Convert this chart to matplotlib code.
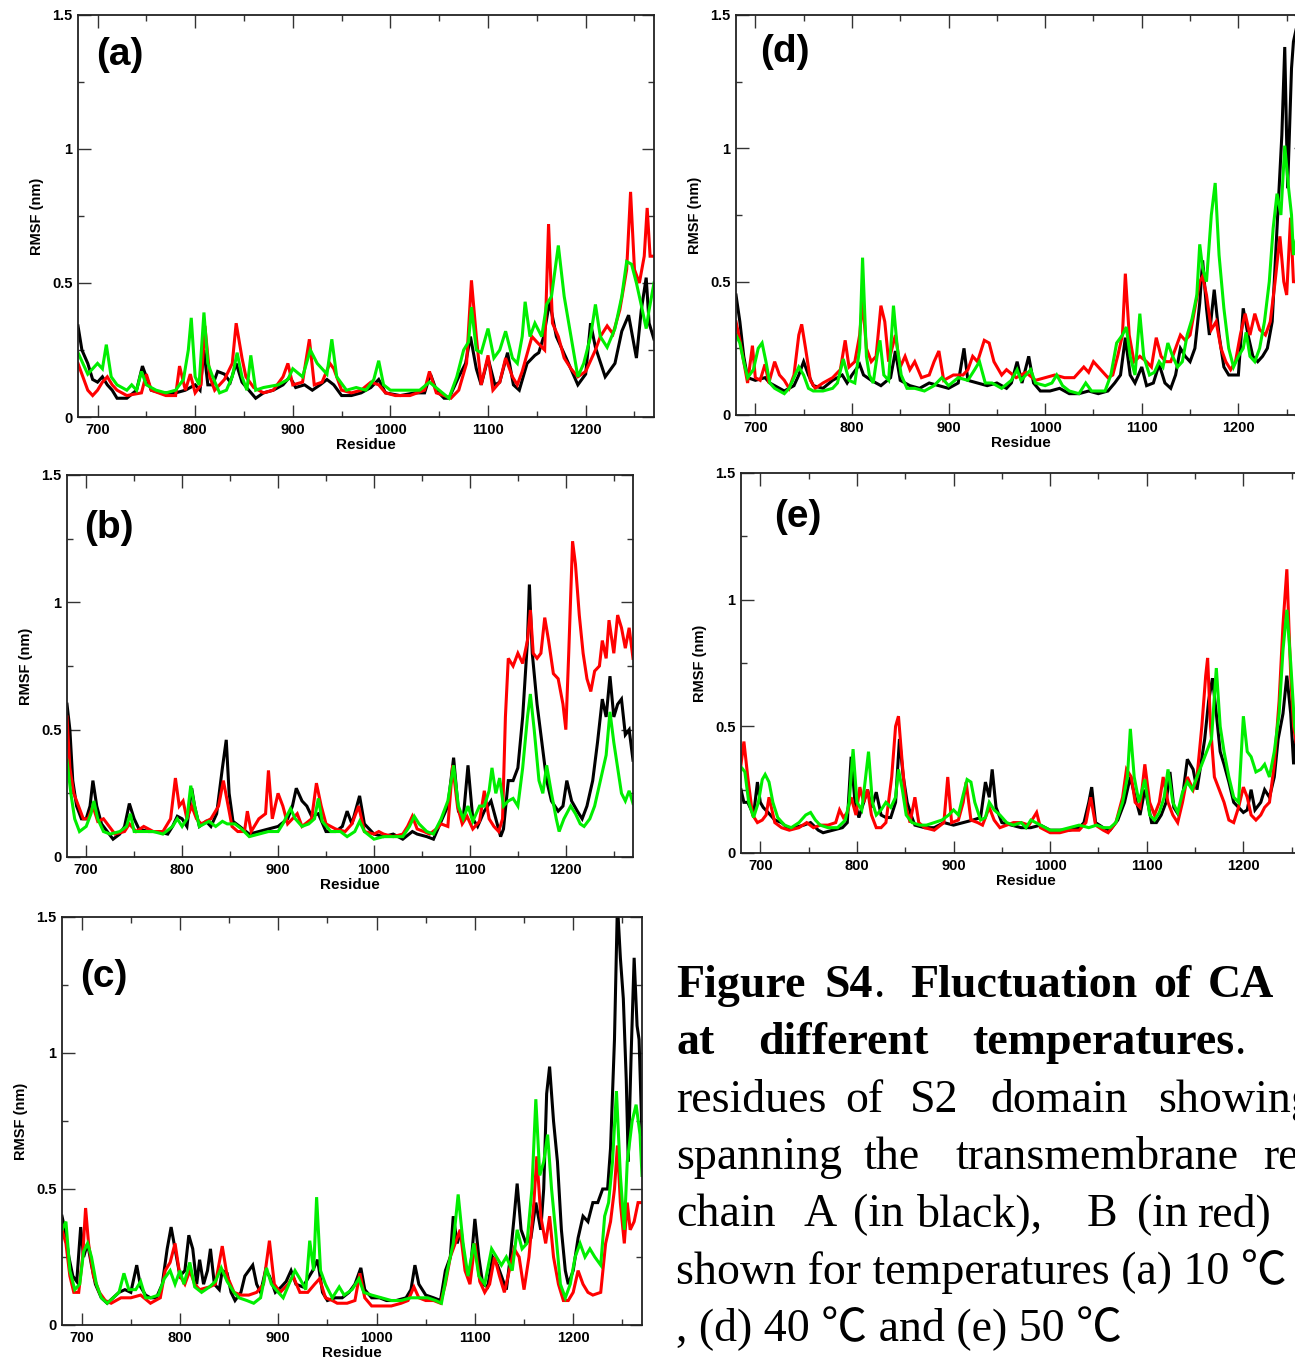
import matplotlib
matplotlib.use("Agg")
import matplotlib.pyplot as plt
from matplotlib.ticker import MultipleLocator, FuncFormatter

W, H = 1295, 1362

# RMSF (nm) per residue: (residue, value) pairs
# panel (a) 10 C
a_black = [(680, .34), (684, .25), (690, .2), (695, .14), (700, .13), (705, .15), (710, .12), (715, .1), (720, .07), (730, .07),
           (740, .1), (746, .19), (750, .15), (755, .1), (765, .09), (780, .09), (790, .1), (800, .12), (805, .1), (809, .25),
           (813, .12), (818, .12), (823, .17), (830, .16), (836, .13), (842, .2), (848, .13), (855, .1), (862, .07), (870, .09),
           (880, .1), (890, .12), (897, .15), (903, .11), (912, .12), (920, .1), (928, .12), (935, .14), (942, .12), (950, .08),
           (960, .08), (970, .09), (980, .11), (988, .14), (995, .09), (1010, .08), (1025, .09), (1035, .09), (1041, .16),
           (1047, .1), (1055, .07), (1060, .07), (1070, .15), (1077, .2), (1082, .3), (1088, .18), (1093, .12), (1100, .22),
           (1107, .12), (1112, .13), (1120, .24), (1126, .12), (1132, .1), (1140, .2), (1148, .23), (1152, .24), (1157, .3),
           (1163, .43), (1170, .3), (1180, .22), (1192, .12), (1200, .16), (1205, .35), (1210, .26), (1220, .15), (1230, .2),
           (1237, .32), (1244, .38), (1252, .22), (1257, .4), (1262, .52), (1265, .35), (1270, .29)]
a_red = [(680, .2), (685, .15), (690, .1), (695, .08), (700, .1), (705, .13), (710, .15), (715, .12), (720, .1), (730, .08),
         (745, .09), (750, .16), (755, .1), (770, .08), (780, .08), (784, .19), (790, .1), (795, .16), (800, .09), (806, .12),
         (810, .34), (815, .15), (820, .1), (830, .14), (838, .2), (842, .35), (848, .22), (852, .15), (860, .11), (870, .09),
         (880, .1), (890, .15), (895, .2), (900, .12), (910, .13), (917, .29), (922, .12), (930, .13), (938, .2), (942, .18),
         (950, .1), (960, .09), (970, .1), (980, .13), (988, .12), (995, .09), (1005, .08), (1020, .08), (1035, .1), (1040, .17),
         (1047, .09), (1055, .08), (1062, .07), (1070, .1), (1078, .2), (1083, .51), (1088, .3), (1093, .12), (1100, .23),
         (1105, .1), (1112, .13), (1118, .22), (1125, .15), (1130, .12), (1135, .17), (1145, .3), (1150, .28), (1158, .25),
         (1162, .72), (1166, .35), (1172, .3), (1178, .22), (1185, .18), (1192, .15), (1200, .17), (1210, .25), (1215, .3),
         (1222, .34), (1228, .31), (1235, .4), (1242, .55), (1246, .84), (1250, .55), (1255, .5), (1260, .6), (1263, .78),
         (1266, .6), (1270, .6)]
a_green = [(680, .24), (685, .2), (690, .16), (695, .18), (700, .2), (705, .18), (709, .27), (714, .15), (720, .12), (730, .1),
           (735, .12), (740, .1), (745, .17), (750, .12), (760, .1), (770, .09), (780, .1), (788, .14), (793, .25), (796, .37),
           (800, .15), (804, .12), (809, .39), (813, .2), (818, .15), (825, .09), (832, .1), (838, .15), (843, .24), (848, .15),
           (853, .1), (857, .23), (862, .1), (870, .11), (885, .12), (895, .14), (900, .18), (910, .15), (918, .25), (925, .2),
           (935, .16), (940, .29), (945, .15), (955, .1), (965, .11), (975, .1), (983, .14), (988, .21), (993, .12), (1000, .1),
           (1015, .1), (1030, .1), (1040, .13), (1050, .1), (1060, .07), (1068, .15), (1075, .25), (1080, .28), (1083, .41),
           (1088, .25), (1093, .24), (1100, .33), (1106, .22), (1112, .25), (1118, .32), (1125, .22), (1130, .2), (1135, .3),
           (1138, .43), (1143, .3), (1148, .35), (1155, .3), (1160, .42), (1165, .45), (1172, .64), (1178, .45), (1185, .3),
           (1192, .15), (1198, .2), (1205, .3), (1210, .42), (1215, .3), (1222, .26), (1230, .33), (1237, .45), (1242, .58),
           (1247, .57), (1252, .5), (1258, .4), (1262, .33), (1265, .4), (1270, .5)]

# panel (b) 20 C
b_black = [(680, .6), (683, .5), (686, .3), (690, .2), (695, .15), (700, .15), (704, .2), (707, .3), (711, .2), (716, .13),
           (722, .1), (728, .07), (735, .09), (740, .12), (745, .21), (750, .15), (755, .11), (765, .1), (775, .1), (785, .09),
           (790, .12), (795, .16), (800, .15), (805, .12), (810, .27), (813, .2), (818, .12), (825, .14), (830, .12), (836, .17),
           (842, .35), (846, .46), (849, .25), (853, .14), (860, .12), (870, .09), (880, .1), (890, .11), (900, .12), (910, .15),
           (915, .2), (919, .27), (925, .22), (930, .2), (935, .16), (942, .17), (950, .1), (960, .1), (967, .12), (972, .18),
           (977, .13), (985, .24), (990, .13), (1000, .09), (1010, .08), (1020, .09), (1030, .07), (1040, .1), (1045, .09),
           (1055, .08), (1062, .07), (1070, .14), (1077, .2), (1083, .39), (1088, .18), (1093, .15), (1098, .36), (1103, .15),
           (1108, .12), (1115, .18), (1122, .22), (1127, .15), (1132, .08), (1135, .11), (1140, .3), (1145, .3), (1150, .35),
           (1155, .55), (1160, .85), (1162, 1.07), (1165, .8), (1170, .6), (1175, .45), (1180, .3), (1185, .22), (1192, .18),
           (1197, .2), (1201, .3), (1206, .22), (1212, .18), (1217, .15), (1222, .2), (1228, .3), (1233, .45), (1238, .62),
           (1242, .55), (1246, .71), (1250, .55), (1254, .6), (1258, .62), (1262, .48), (1266, .5), (1270, .38)]
b_red = [(680, .55), (683, .35), (687, .25), (692, .2), (697, .15), (702, .15), (707, .2), (712, .14), (718, .15), (724, .12),
         (730, .09), (740, .1), (745, .13), (752, .1), (760, .12), (770, .1), (780, .1), (788, .15), (793, .31), (797, .2),
         (801, .22), (805, .15), (810, .2), (815, .15), (820, .13), (830, .15), (838, .2), (843, .3), (847, .22), (852, .12),
         (858, .1), (865, .1), (868, .18), (872, .1), (880, .15), (887, .17), (890, .34), (894, .15), (900, .25), (905, .2),
         (910, .13), (915, .15), (920, .17), (925, .12), (935, .15), (940, .29), (945, .2), (950, .13), (960, .11), (970, .1),
         (977, .13), (984, .2), (990, .1), (1000, .09), (1005, .1), (1010, .09), (1020, .08), (1030, .09), (1035, .12),
         (1040, .16), (1045, .11), (1052, .1), (1058, .09), (1065, .11), (1070, .13), (1077, .12), (1082, .36), (1087, .2),
         (1092, .13), (1097, .16), (1103, .11), (1110, .14), (1115, .26), (1120, .15), (1125, .12), (1130, .1), (1134, .15),
         (1137, .55), (1140, .78), (1145, .75), (1150, .8), (1155, .76), (1160, .85), (1163, .97), (1166, .8), (1170, .78),
         (1174, .8), (1178, .94), (1182, .85), (1187, .72), (1192, .7), (1197, .6), (1200, .5), (1203, .8), (1207, 1.24),
         (1210, 1.15), (1214, .95), (1218, .8), (1222, .7), (1226, .65), (1230, .73), (1235, .75), (1238, .85), (1242, .78),
         (1245, .93), (1250, .8), (1254, .95), (1258, .9), (1262, .82), (1266, .9), (1270, .78)]
b_green = [(680, .38), (684, .25), (688, .15), (693, .1), (700, .12), (705, .17), (708, .22), (712, .15), (718, .1), (725, .09),
           (735, .1), (742, .12), (746, .17), (750, .1), (760, .1), (770, .1), (780, .09), (790, .12), (795, .15), (800, .12),
           (805, .15), (809, .28), (813, .2), (818, .12), (823, .13), (828, .14), (835, .12), (842, .14), (847, .13), (855, .13),
           (862, .11), (870, .08), (880, .09), (890, .1), (900, .1), (905, .13), (913, .19), (918, .15), (925, .12), (932, .13),
           (938, .15), (942, .23), (946, .14), (955, .1), (965, .1), (972, .08), (980, .1), (985, .14), (990, .1), (1000, .07),
           (1010, .08), (1020, .08), (1030, .08), (1037, .12), (1042, .16), (1047, .13), (1055, .1), (1062, .09), (1070, .15),
           (1077, .22), (1083, .36), (1088, .2), (1093, .15), (1098, .2), (1103, .14), (1110, .2), (1115, .2), (1120, .26),
           (1123, .35), (1127, .25), (1131, .31), (1135, .2), (1140, .22), (1145, .23), (1150, .2), (1155, .35), (1160, .55),
           (1163, .64), (1167, .5), (1172, .3), (1176, .25), (1180, .36), (1185, .25), (1190, .15), (1193, .1), (1198, .15),
           (1205, .2), (1210, .17), (1215, .13), (1219, .12), (1225, .15), (1230, .2), (1236, .3), (1242, .4), (1246, .57),
           (1250, .45), (1254, .35), (1258, .25), (1262, .22), (1266, .26), (1270, .21)]

# panel (c) 30 C
c_black = [(680, .4), (683, .35), (687, .25), (691, .18), (695, .16), (699, .36), (702, .25), (706, .3), (710, .22), (714, .15),
           (720, .1), (726, .08), (732, .1), (738, .12), (744, .13), (750, .12), (756, .22), (760, .14), (765, .11), (770, .1),
           (776, .1), (782, .15), (787, .28), (791, .36), (795, .28), (800, .18), (805, .2), (809, .33), (813, .28), (817, .15),
           (820, .24), (824, .15), (828, .2), (831, .28), (835, .15), (840, .13), (843, .2), (848, .19), (852, .12), (856, .09),
           (862, .12), (866, .18), (870, .2), (874, .22), (878, .15), (882, .12), (887, .2), (891, .18), (897, .12), (903, .14),
           (908, .16), (913, .2), (918, .15), (925, .14), (930, .17), (935, .2), (940, .24), (945, .12), (950, .09), (958, .1),
           (965, .1), (972, .12), (978, .15), (984, .21), (988, .13), (995, .1), (1003, .1), (1010, .09), (1020, .09),
           (1030, .1), (1035, .13), (1039, .22), (1043, .15), (1050, .11), (1058, .1), (1065, .09), (1070, .2), (1075, .25),
           (1078, .4), (1082, .3), (1086, .35), (1090, .22), (1095, .18), (1100, .39), (1104, .25), (1108, .15), (1113, .14),
           (1118, .25), (1123, .22), (1128, .17), (1132, .13), (1136, .25), (1140, .4), (1143, .52), (1147, .35), (1152, .3),
           (1157, .32), (1162, .45), (1167, .35), (1170, .5), (1173, .85), (1176, .95), (1180, .75), (1184, .6), (1188, .35),
           (1192, .2), (1195, .15), (1200, .2), (1205, .32), (1210, .4), (1215, .38), (1220, .45), (1225, .45), (1230, .5),
           (1235, .5), (1238, .65), (1242, 1.05), (1245, 1.55), (1248, 1.35), (1251, 1.2), (1254, .9), (1256, .6), (1259, 1.0),
           (1262, 1.35), (1265, 1.1), (1267, 1.05), (1270, .7)]
c_red = [(680, .35), (684, .3), (688, .18), (692, .12), (697, .12), (701, .25), (704, .43), (707, .3), (712, .18), (718, .12),
         (724, .09), (730, .08), (740, .1), (750, .1), (760, .11), (770, .08), (780, .1), (785, .2), (790, .23), (795, .3),
         (800, .18), (805, .15), (810, .2), (815, .15), (820, .13), (830, .14), (836, .15), (843, .29), (848, .18), (855, .12),
         (862, .11), (870, .11), (878, .12), (885, .15), (891, .31), (896, .15), (902, .12), (910, .15), (915, .18), (922, .12),
         (930, .12), (937, .15), (942, .17), (948, .1), (955, .09), (960, .08), (970, .08), (978, .09), (983, .19), (988, .1),
         (995, .07), (1005, .07), (1015, .07), (1025, .08), (1032, .09), (1038, .14), (1043, .1), (1050, .09), (1058, .09),
         (1065, .08), (1070, .15), (1075, .25), (1080, .3), (1085, .35), (1090, .2), (1095, .15), (1100, .3), (1105, .16),
         (1110, .12), (1115, .15), (1120, .25), (1125, .18), (1130, .12), (1135, .2), (1140, .28), (1145, .25), (1150, .13),
         (1155, .25), (1160, .45), (1163, .62), (1167, .4), (1172, .3), (1176, .4), (1180, .25), (1185, .15), (1190, .09),
         (1195, .09), (1200, .12), (1205, .2), (1210, .15), (1215, .12), (1220, .11), (1228, .12), (1233, .3), (1238, .38),
         (1242, .5), (1245, .66), (1248, .45), (1252, .3), (1255, .45), (1258, .35), (1262, .38), (1266, .45), (1270, .45)]
c_green = [(680, .35), (684, .38), (688, .2), (693, .13), (698, .15), (702, .27), (706, .3), (710, .25), (715, .15), (720, .1),
           (726, .08), (732, .1), (738, .12), (743, .19), (748, .13), (755, .13), (760, .16), (765, .1), (770, .1), (778, .11),
           (784, .17), (790, .2), (795, .15), (800, .2), (804, .15), (810, .23), (815, .14), (822, .12), (830, .14), (836, .16),
           (842, .21), (848, .16), (855, .12), (860, .1), (868, .09), (875, .08), (882, .1), (888, .21), (893, .15), (900, .12),
           (905, .1), (912, .16), (917, .2), (922, .17), (928, .13), (932, .31), (936, .2), (939, .47), (943, .2), (948, .15),
           (955, .1), (962, .14), (967, .11), (975, .13), (982, .17), (987, .12), (995, .11), (1005, .1), (1015, .09),
           (1025, .09), (1035, .1), (1045, .1), (1052, .1), (1060, .09), (1066, .08), (1072, .2), (1078, .3), (1083, .48),
           (1088, .3), (1093, .18), (1099, .3), (1104, .18), (1110, .15), (1117, .28), (1122, .25), (1127, .22), (1132, .25),
           (1138, .2), (1143, .35), (1148, .28), (1153, .3), (1158, .5), (1162, .83), (1166, .55), (1170, .6), (1174, .7),
           (1178, .5), (1182, .35), (1187, .15), (1192, .1), (1197, .15), (1202, .25), (1207, .3), (1212, .25), (1217, .28),
           (1222, .25), (1228, .22), (1232, .4), (1236, .45), (1240, .6), (1244, .86), (1248, .55), (1252, .35), (1255, .6),
           (1260, .75), (1264, .81), (1268, .7), (1270, .55)]

# panel (d) 40 C
d_black = [(680, .45), (684, .35), (688, .22), (692, .14), (700, .13), (710, .14), (715, .12), (720, .11), (730, .09), (740, .11),
           (745, .15), (750, .2), (755, .15), (760, .11), (770, .1), (780, .13), (790, .15), (795, .12), (800, .15), (808, .19),
           (812, .15), (820, .13), (830, .11), (840, .14), (845, .24), (850, .13), (860, .11), (870, .1), (880, .12), (890, .11),
           (900, .1), (910, .12), (916, .25), (920, .13), (930, .12), (940, .11), (950, .12), (960, .1), (965, .12), (971, .2),
           (976, .12), (983, .22), (988, .12), (995, .09), (1005, .09), (1015, .1), (1025, .08), (1035, .08), (1045, .09),
           (1055, .08), (1065, .09), (1072, .12), (1078, .15), (1083, .29), (1088, .15), (1093, .12), (1100, .18), (1105, .11),
           (1112, .12), (1118, .19), (1124, .12), (1130, .1), (1135, .15), (1140, .25), (1145, .22), (1150, .2), (1155, .25),
           (1160, .42), (1163, .58), (1167, .4), (1170, .3), (1175, .47), (1180, .3), (1185, .18), (1190, .15), (1195, .15),
           (1200, .15), (1205, .4), (1210, .3), (1215, .22), (1220, .2), (1225, .22), (1230, .25), (1235, .35), (1240, .7),
           (1245, 1.05), (1248, 1.38), (1251, .85), (1255, 1.3), (1257, 1.4), (1260, 1.45), (1265, 1.2), (1270, 1.0)]
d_red = [(680, .35), (684, .28), (688, .2), (692, .12), (697, .26), (700, .14), (705, .13), (710, .19), (714, .12), (720, .2),
         (725, .15), (730, .13), (735, .1), (740, .15), (745, .3), (748, .34), (752, .25), (757, .13), (762, .1), (770, .12),
         (780, .14), (788, .17), (793, .28), (797, .18), (803, .2), (808, .3), (811, .43), (815, .25), (820, .2), (825, .22),
         (830, .41), (834, .35), (838, .2), (845, .3), (850, .18), (855, .22), (860, .17), (865, .2), (872, .14), (880, .15),
         (885, .2), (890, .24), (895, .13), (905, .15), (915, .15), (920, .17), (925, .22), (930, .2), (937, .28), (942, .27),
         (947, .2), (955, .15), (960, .17), (970, .14), (980, .16), (990, .13), (1000, .14), (1010, .15), (1020, .14),
         (1030, .14), (1040, .18), (1045, .16), (1050, .2), (1055, .18), (1060, .16), (1065, .14), (1070, .15), (1075, .22),
         (1080, .3), (1083, .53), (1087, .3), (1092, .2), (1098, .22), (1105, .2), (1110, .18), (1115, .29), (1120, .22),
         (1125, .2), (1130, .2), (1135, .25), (1140, .3), (1145, .28), (1150, .3), (1155, .4), (1160, .5), (1163, .52),
         (1167, .45), (1172, .32), (1177, .35), (1182, .25), (1187, .2), (1192, .17), (1197, .2), (1202, .3), (1207, .38),
         (1212, .3), (1217, .38), (1222, .32), (1228, .3), (1233, .35), (1238, .5), (1243, .67), (1247, .5), (1250, .45),
         (1254, .74), (1257, .5), (1260, .5), (1265, .5), (1270, .5)]
d_green = [(680, .3), (684, .27), (688, .2), (692, .14), (698, .17), (703, .25), (707, .27), (711, .2), (715, .12), (720, .1),
           (725, .09), (730, .08), (735, .1), (740, .14), (745, .18), (750, .15), (755, .1), (760, .09), (770, .09), (780, .1),
           (785, .12), (791, .21), (797, .13), (803, .12), (808, .25), (811, .59), (815, .22), (818, .15), (822, .12), (826, .22),
           (829, .28), (833, .15), (838, .13), (843, .41), (847, .25), (851, .15), (857, .1), (865, .1), (875, .09), (885, .11),
           (893, .14), (900, .11), (910, .14), (920, .13), (927, .17), (932, .2), (938, .12), (945, .12), (955, .1), (965, .13),
           (971, .17), (975, .13), (985, .17), (990, .12), (1000, .11), (1007, .12), (1012, .15), (1018, .11), (1025, .09),
           (1035, .08), (1042, .12), (1048, .09), (1055, .09), (1062, .09), (1068, .15), (1074, .27), (1080, .3), (1084, .33),
           (1088, .22), (1093, .15), (1098, .38), (1102, .22), (1108, .15), (1113, .16), (1118, .2), (1122, .18), (1127, .27),
           (1132, .22), (1137, .18), (1142, .2), (1147, .3), (1152, .36), (1157, .45), (1160, .64), (1163, .55), (1167, .5),
           (1172, .75), (1176, .87), (1180, .6), (1185, .4), (1190, .25), (1195, .18), (1200, .22), (1205, .25), (1208, .31),
           (1212, .22), (1217, .2), (1222, .25), (1227, .35), (1232, .5), (1236, .7), (1240, .83), (1244, .75), (1248, 1.01),
           (1252, .85), (1255, .75), (1257, .6), (1262, .7), (1270, .7)]

# panel (e) 50 C
e_black = [(680, .25), (683, .2), (687, .2), (693, .15), (697, .28), (700, .2), (703, .18), (708, .16), (715, .13), (722, .12),
           (728, .1), (735, .1), (745, .11), (752, .12), (760, .09), (765, .08), (775, .09), (785, .1), (790, .12), (794, .38),
           (798, .2), (802, .14), (807, .2), (811, .25), (815, .18), (820, .24), (825, .15), (830, .14), (835, .14), (840, .2),
           (844, .45), (848, .3), (852, .2), (856, .15), (860, .11), (870, .1), (880, .1), (890, .12), (900, .11), (910, .12),
           (920, .13), (928, .14), (933, .28), (937, .22), (940, .33), (944, .18), (950, .12), (960, .11), (970, .1), (980, .1),
           (990, .11), (1000, .09), (1010, .09), (1020, .09), (1030, .1), (1035, .12), (1040, .2), (1043, .26), (1047, .12),
           (1055, .1), (1062, .09), (1070, .13), (1077, .2), (1083, .3), (1088, .22), (1093, .15), (1098, .25), (1100, .22),
           (1105, .12), (1110, .12), (1115, .15), (1120, .2), (1124, .32), (1128, .18), (1133, .15), (1138, .25), (1142, .37),
           (1148, .33), (1152, .25), (1156, .35), (1160, .45), (1164, .6), (1168, .69), (1172, .55), (1176, .4), (1180, .35),
           (1185, .28), (1190, .2), (1195, .18), (1200, .16), (1204, .17), (1208, .25), (1212, .17), (1218, .2), (1222, .25),
           (1227, .22), (1232, .3), (1236, .45), (1241, .55), (1245, .7), (1249, .55), (1252, .35), (1255, .5), (1260, .6),
           (1265, .5), (1270, .45)]
e_red = [(680, .35), (683, .44), (687, .3), (692, .15), (697, .12), (702, .13), (706, .15), (709, .22), (715, .12), (722, .1),
         (730, .09), (740, .1), (748, .12), (755, .1), (762, .11), (770, .11), (778, .12), (782, .17), (786, .14), (790, .16),
         (794, .22), (799, .15), (803, .26), (807, .2), (811, .25), (815, .15), (820, .1), (825, .1), (830, .12), (836, .3),
         (840, .5), (843, .54), (847, .35), (851, .18), (855, .12), (860, .22), (864, .12), (870, .1), (880, .09), (890, .12),
         (894, .3), (898, .12), (905, .13), (910, .2), (913, .28), (918, .13), (925, .12), (930, .11), (937, .18), (942, .13),
         (948, .1), (955, .11), (962, .12), (970, .12), (978, .11), (986, .16), (990, .1), (1000, .08), (1010, .08),
         (1020, .09), (1030, .09), (1037, .12), (1042, .22), (1047, .11), (1055, .09), (1060, .08), (1068, .12), (1075, .22),
         (1079, .33), (1084, .3), (1088, .2), (1093, .18), (1098, .35), (1103, .2), (1108, .15), (1113, .2), (1117, .3),
         (1122, .2), (1127, .15), (1132, .12), (1137, .2), (1142, .3), (1148, .25), (1152, .3), (1157, .5), (1161, .7),
         (1163, .77), (1166, .5), (1170, .3), (1175, .25), (1180, .2), (1185, .13), (1190, .12), (1195, .18), (1200, .26),
         (1204, .22), (1208, .15), (1213, .13), (1218, .15), (1222, .18), (1227, .2), (1232, .35), (1237, .6), (1241, .9),
         (1245, 1.12), (1249, .7), (1252, .5), (1256, .4), (1260, .45), (1265, .5), (1270, .4)]
e_green = [(680, .34), (684, .32), (688, .2), (693, .14), (698, .2), (702, .29), (705, .31), (709, .28), (713, .2), (718, .14),
           (725, .11), (732, .1), (740, .12), (747, .15), (752, .16), (757, .13), (762, .11), (770, .1), (780, .1), (788, .13),
           (792, .2), (796, .41), (800, .2), (805, .17), (809, .3), (812, .4), (816, .2), (820, .15), (825, .17), (830, .2),
           (835, .18), (840, .22), (843, .33), (847, .25), (851, .15), (857, .12), (865, .11), (872, .11), (880, .12), (888, .13),
           (895, .15), (900, .17), (905, .15), (910, .23), (914, .29), (918, .28), (922, .2), (928, .13), (933, .14), (937, .2),
           (942, .17), (948, .15), (955, .12), (962, .11), (970, .12), (975, .1), (980, .13), (985, .12), (990, .11),
           (1000, .09), (1010, .09), (1020, .1), (1030, .11), (1040, .1), (1048, .11), (1055, .1), (1062, .1), (1068, .12),
           (1075, .2), (1080, .3), (1083, .49), (1087, .3), (1092, .2), (1098, .29), (1103, .15), (1108, .13), (1113, .16),
           (1118, .22), (1122, .33), (1127, .2), (1132, .16), (1137, .24), (1142, .28), (1147, .25), (1152, .3), (1157, .35),
           (1162, .4), (1167, .45), (1172, .73), (1176, .5), (1180, .4), (1185, .3), (1190, .22), (1195, .2), (1200, .54),
           (1204, .4), (1208, .38), (1213, .32), (1218, .33), (1222, .35), (1227, .3), (1232, .4), (1237, .55), (1241, .8),
           (1245, .96), (1249, .75), (1253, .5), (1258, .4), (1262, .45), (1270, .42)]

panel_labels = ["(a)", "(b)", "(c)", "(d)", "(e)"]

# caption words; None weight means "glue to previous word" (a period in normal weight)
caption_lines = [
    [("Figure", "bold"), ("S4", "bold"), (".", None), ("Fluctuation", "bold"), ("of", "bold"), ("CA", "bold")],
    [("at", "bold"), ("different", "bold"), ("temperatures", "bold"), (".", None)],
    [("residues", "normal"), ("of", "normal"), ("S2", "normal"), ("domain", "normal"), ("showing", "normal")],
    [("spanning", "normal"), ("the", "normal"), ("transmembrane", "normal"), ("re", "normal")],
    [("chain", "normal"), ("A", "normal"), ("(in", "normal"), ("black),", "normal"), ("B", "normal"), ("(in", "normal"), ("red)", "normal")],
    [("shown for temperatures (a) 10 \u2103", "normal")],
    [(", (d) 40 \u2103 and (e) 50 \u2103", "normal")],
]
# left edge (pixels) of each caption word, justified layout as in the source
caption_x = [
    [676, 825, None, 910, 1153, 1208],
    [676, 758, 972, None],
    [676, 845, 910, 990, 1158],
    [676, 864, 956, 1263],
    [676, 803, 853, 917, 1087, 1137, 1197],
    [676],
    [676],
]

plt.rcParams['font.family'] = ['Liberation Sans', 'DejaVu Sans']

fig = plt.figure(figsize=(W / 100, H / 100), dpi=100)


def rect(left, top, width, height):
    return [left / W, 1 - (top + height) / H, width / W, height / H]


def panel(r, label, lab_xy, series):
    ax = fig.add_axes(r)
    for data, col in zip(series, ["#000000", "#ff0000", "#00ee00"]):
        xs = [p[0] for p in data]
        ys = [p[1] for p in data]
        ax.plot(xs, ys, color=col, lw=2.2, solid_joinstyle='miter')
    ax.set_xlim(680, 1270)
    ax.set_ylim(0, 1.5)
    ax.xaxis.set_major_locator(MultipleLocator(100))
    ax.xaxis.set_minor_locator(MultipleLocator(50))
    ax.yaxis.set_major_locator(MultipleLocator(0.5))
    ax.yaxis.set_minor_locator(MultipleLocator(0.25))
    ax.yaxis.set_major_formatter(FuncFormatter(lambda v, p: "%g" % v))
    ax.tick_params(which='both', direction='in', top=True, right=True, width=1.0, color='#333333')
    ax.tick_params(which='major', length=9, labelsize=10.5, pad=4)
    ax.tick_params(which='minor', length=4.5)
    for t in ax.get_xticklabels() + ax.get_yticklabels():
        t.set_fontweight('bold')
    for s in ax.spines.values():
        s.set_linewidth(1.3)
        s.set_color('#222222')
    ax.set_xlabel("Residue", fontsize=11, fontweight='bold', labelpad=1)
    ax.set_ylabel("RMSF (nm)", fontsize=10.5, fontweight='bold', labelpad=6)
    fig.text(lab_xy[0] / W, 1 - lab_xy[1] / H, label, fontsize=28, fontweight='bold',
             ha='left', va='center')
    return ax


panel(rect(78, 15, 576, 402), panel_labels[0], (96, 55), [a_black, a_red, a_green])
panel(rect(67, 475, 566, 382), panel_labels[1], (84, 528), [b_black, b_red, b_green])
panel(rect(62, 917, 580, 408), panel_labels[2], (80, 977), [c_black, c_red, c_green])
panel(rect(736, 15, 570, 400), panel_labels[3], (760, 52), [d_black, d_red, d_green])
panel(rect(741, 473, 570, 380), panel_labels[4], (774, 517), [e_black, e_red, e_green])

# caption, Times-like serif, justified
serif = ['Liberation Serif', 'Noto Sans CJK SC', 'DejaVu Serif']
renderer = fig.canvas.get_renderer()
for i, (words, xs) in enumerate(zip(caption_lines, caption_x)):
    base = 997 + 57.3 * i
    prev = None
    for (w, weight), x in zip(words, xs):
        if x is None:
            # glue right after the previous word
            x = prev.get_window_extent(renderer).x1 + 1
            weight = "normal"
        prev = fig.text(x / W, 1 - base / H, w, fontsize=33, fontweight=weight, family=serif,
                        ha='left', va='baseline')

fig.savefig("out.png", dpi=100)
